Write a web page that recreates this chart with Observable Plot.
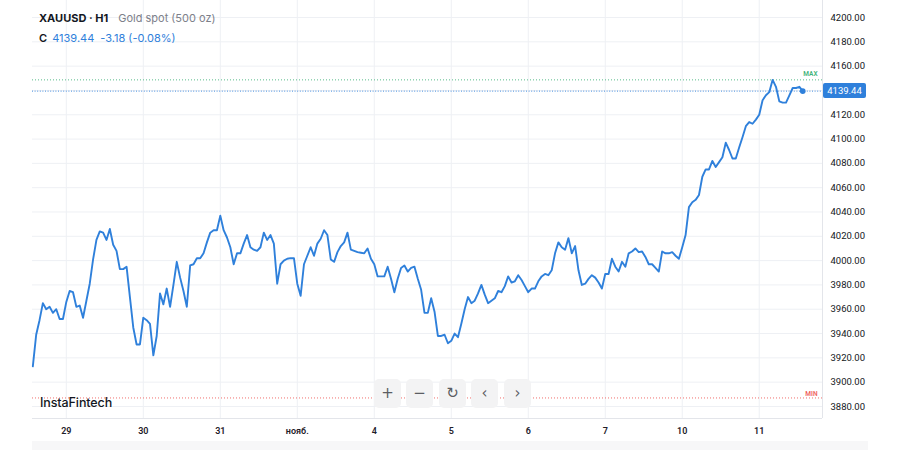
<!DOCTYPE html>
<html>
<head>
<meta charset="utf-8">
<script src="https://cdn.jsdelivr.net/npm/d3@7"></script>
<script src="https://cdn.jsdelivr.net/npm/@observablehq/plot@0.6"></script>
<style>
  html, body { margin: 0; padding: 0; background: #ffffff; }
  #wrap { position: relative; width: 900px; height: 450px; overflow: hidden; font-family: Inter, "Noto Sans", sans-serif; }
  #wrap svg { position: absolute; left: 0; top: 0; }
  .band { position: absolute; background: #f7f7f8; }
  .hdr { position: absolute; left: 39px; white-space: nowrap; font-size: 11px; line-height: 12px; }
  .sym { font-weight: 700; color: #131722; }
  .desc { color: #7d808a; margin-left: 10px; }
  .blue { color: #2f80db; }
  .logo { position: absolute; left: 40px; top: 395px; font-size: 12.5px; font-weight: 500; color: #131722; letter-spacing: -0.1px; }
  .btn { position: absolute; top: 379px; width: 27px; height: 29px; border-radius: 5px; background: #f3f3f4;
         color: #5b5d63; font-size: 15px; line-height: 29px; text-align: center; font-family: "DejaVu Sans", sans-serif; }
  .tag { position: absolute; left: 823px; width: 43px; height: 15px; border-radius: 2px; background: #2f80db; color: #fff;
         font-family: Roboto, sans-serif; font-size: 9.5px; line-height: 15px; text-align: center; }
</style>
</head>
<body>
<div id="wrap"></div>
<script>
// Hourly closes (H1), oldest first
const prices = [
  3913,3939,3951,3965,3960,3962,3957,3960,3952,3952,
  3966,3975,3974,3962,3963,3953,3967,3981,4001,4017,
  4024,4023,4017,4026,4013,4008,3993,3993,3995,3970,
  3945,3931,3931,3953,3951,3948,3922,3938,3973,3964,
  3977,3962,3980,3999,3986,3975,3962,3996,3997,4002,
  4002,4006,4015,4023,4025,4025,4037,4025,4019,4011,
  3997,4006,4006,4014,4021,4011,4009,4008,4011,4023,
  4017,4021,4014,3981,3997,4000,4001.5,4002,4002,3981,
  3971,3997,4004,4011,4004,4014,4018,4025,4021,4001,
  3999,4007,4012,4015,4023,4009,4008,4007,4006.5,4006,
  4010,4001.5,3997,3987,3987,3987,3995,3985,3974,3985,
  3994,3996,3991,3994,3995,3985,3976,3957,3957,3969,
  3958,3938,3938,3939,3932,3934,3940,3937,3948,3960,
  3970,3965,3967,3973,3980,3972,3965,3967,3969,3975,
  3974,3979,3987,3982,3983,3988,3984,3979,3974,3977,
  3977,3983,3987,3989,3988,3992,4006,4015,4011,4009,
  4018.5,4006,4012,3992,3980,3981,3985,3988,3986,3982,
  3977,3989,3989,4001.5,3995,3991,3999,3995,4006,4007.5,
  4010,4007,4007.5,4003,3997,3997,3994,3991,4007.5,4006,
  4006,4007,4004,4001.5,4011,4021,4044,4048,4050,4054,
  4069,4075,4075,4082,4077,4081,4085,4097,4091,4084,
  4084,4093,4101.5,4110.6,4114,4112.6,4116,4120,4132,4136,
  4138.6,4148.7,4143,4131,4130,4130,4136,4142,4142,4143,
  4139.44
];
// Day boundaries (bar index) and their labels
const dayTicks  = [10, 33, 56, 79, 102, 125, 148, 171, 194, 217];
const dayLabels = ["29", "30", "31", "нояб.", "4", "5", "6", "7", "10", "11"];
// Price grid lines and axis labels (4140 label is covered by the last-price tag)
const priceTicks = [3880, 3900, 3920, 3940, 3960, 3980, 4000, 4020, 4040, 4060, 4080, 4100, 4120, 4140, 4160, 4180, 4200];
const priceLabels = [3880, 3900, 3920, 3940, 3960, 3980, 4000, 4020, 4040, 4060, 4080, 4100, 4120, 4160, 4180, 4200];
const lastPrice = 4139.44;
const maxLevel = 4148.7;
const minLevel = 3887;
const header = { symbol: "XAUUSD · H1", desc: "Gold spot (500 oz)", close: "4139.44", change: "-3.18 (-0.08%)" };

const rows = prices.map((p, i) => ({ i, p }));
const xDomain = [-0.1, 235.9];
const yDomain = [3870.1, 4214];
const blue = "#2f80db";
const grid = "#eef0f4";

const plot = Plot.plot({
  width: 900,
  height: 450,
  marginTop: 0,
  marginBottom: 32,
  marginLeft: 32,
  marginRight: 78,
  style: { fontFamily: "Roboto, sans-serif", fontSize: "9px", color: "#131722", background: "transparent", overflow: "visible" },
  x: { domain: xDomain, axis: null },
  y: { domain: yDomain, axis: null },
  marks: [
    Plot.gridX(dayTicks, { stroke: grid, strokeOpacity: 1 }),
    Plot.gridY(priceTicks, { stroke: grid, strokeOpacity: 1 }),
    Plot.ruleX([xDomain[1]], { stroke: "#e3e5ea" }),
    Plot.ruleY([yDomain[0]], { stroke: "#e3e5ea" }),
    Plot.ruleY([maxLevel], { stroke: "#44b47c", strokeDasharray: "1,2", strokeWidth: 0.9 }),
    Plot.ruleY([minLevel], { stroke: "#ef5f5c", strokeDasharray: "1,2", strokeWidth: 0.9 }),
    Plot.ruleY([lastPrice], { stroke: blue, strokeDasharray: "1,1.6", strokeWidth: 0.9 }),
    Plot.text([maxLevel], { y: d => d, text: () => "MAX", frameAnchor: "right", textAnchor: "end", dx: -5, dy: -6, fill: "#3fb37a", fontSize: 6.5, fontWeight: 600 }),
    Plot.text([minLevel], { y: d => d, text: () => "MIN", frameAnchor: "right", textAnchor: "end", dx: -5, dy: -4, fill: "#ef5f5c", fontSize: 6.5, fontWeight: 600 }),
    Plot.line(rows, { x: "i", y: "p", stroke: blue, strokeWidth: 1.9, strokeLinejoin: "round" }),
    Plot.dot([rows[rows.length - 1]], { x: "i", y: "p", r: 2.8, fill: blue }),
    Plot.axisY(priceLabels, { anchor: "right", tickSize: 0, tickPadding: 8, tickFormat: d => d.toFixed(2), fontSize: 9.5, fill: "#131722", label: null }),
    Plot.axisX(dayTicks, { anchor: "bottom", tickSize: 0, tickPadding: 9, tickFormat: d => dayLabels[dayTicks.indexOf(d)], fontSize: 9, fontWeight: 600, fill: "#1e2029", label: null })
  ]
});

const wrap = document.getElementById("wrap");
// light band under the time axis
const band = document.createElement("div");
band.className = "band";
Object.assign(band.style, { left: "32px", top: "441px", width: "836px", height: "9px" });
wrap.appendChild(band);
wrap.appendChild(plot);

// header
const h1 = document.createElement("div");
h1.className = "hdr"; h1.style.top = "12px";
h1.innerHTML = `<span class="sym">${header.symbol}</span><span class="desc">${header.desc}</span>`;
wrap.appendChild(h1);
const h2 = document.createElement("div");
h2.className = "hdr"; h2.style.top = "32px";
h2.innerHTML = `<span class="sym" style="font-weight:600">C</span> <span class="blue" style="margin-left:2px">${header.close}</span><span class="blue" style="margin-left:6px">${header.change}</span>`;
wrap.appendChild(h2);

// logo
const logo = document.createElement("div");
logo.className = "logo"; logo.textContent = "InstaFintech";
wrap.appendChild(logo);

// toolbar
const btns = ["+", "−", "↻", "‹", "›"];
const btnX = [374, 406, 439, 471, 504];
btns.forEach((b, k) => {
  const d = document.createElement("div");
  d.className = "btn"; d.style.left = btnX[k] + "px"; d.textContent = b;
  wrap.appendChild(d);
});

// last price tag placed with the plot's y scale
const ys = plot.scale("y");
const tag = document.createElement("div");
tag.className = "tag";
tag.style.top = (ys.apply(lastPrice) - 7.5) + "px";
tag.textContent = lastPrice.toFixed(2);
wrap.appendChild(tag);
</script>
</body>
</html>
